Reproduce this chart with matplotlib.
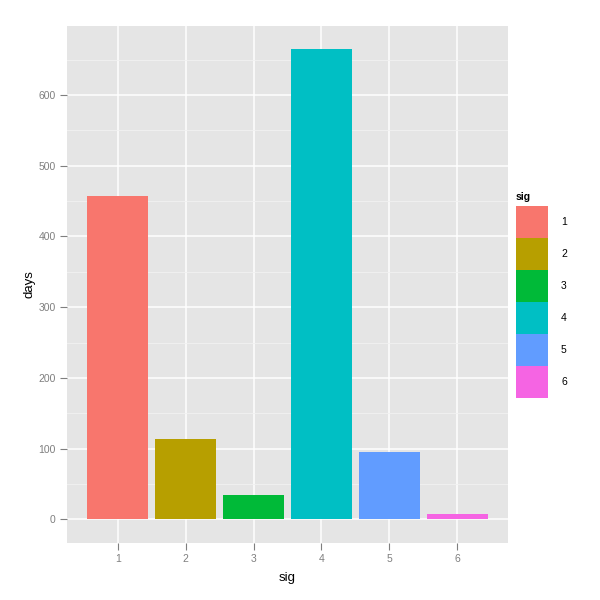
import matplotlib
matplotlib.use("Agg")
import matplotlib.pyplot as plt
from matplotlib.patches import Rectangle

categories = ["1", "2", "3", "4", "5", "6"]
days = [457, 113, 34, 665, 95, 7]
colors = ["#F8766D", "#B79F00", "#00BA38", "#00BFC4", "#619CFF", "#F564E3"]
y_ticks = [0, 100, 200, 300, 400, 500, 600]

plt.rcParams['font.family'] = ['Liberation Sans', 'DejaVu Sans']

fig = plt.figure(figsize=(6, 6), dpi=100)
ax = fig.add_axes([66.7/600, 1-542.7/600, 441.6/600, 517/600])
ax.set_facecolor("#E5E5E5")
xs = list(range(1, len(categories)+1))
ax.bar(xs, days, width=0.9, color=colors, zorder=3)
ax.set_xlim(0.25, 6.75)
ax.set_ylim(-33.25, 698.25)
ax.set_xticks(xs)
ax.set_xticklabels(categories)
ax.set_yticks(y_ticks)
ax.set_yticks([50, 150, 250, 350, 450, 550, 650], minor=True)
ax.grid(True, which="major", color="white", linewidth=1.1, zorder=1)
ax.grid(True, which="minor", axis="y", color="#F2F2F2", linewidth=0.6, zorder=1)
for s in ax.spines.values():
    s.set_visible(False)
ax.tick_params(which="major", length=5, width=0.8, color="#7F7F7F", labelcolor="#7F7F7F", labelsize=7.5, pad=3)
ax.tick_params(which="minor", length=0)
ax.set_xlabel("sig", fontsize=9.5, labelpad=6)
ax.set_ylabel("days", fontsize=9.5, labelpad=2)

# legend
lx0, lx1 = 516, 548
ly_top, key_h = 206, 32
lax = fig.add_axes([0, 0, 1, 1], facecolor="none")
lax.set_xlim(0, 600)
lax.set_ylim(600, 0)
lax.axis("off")
lax.text(lx0, 202, "sig", fontsize=7.5, fontweight="bold", va="bottom", ha="left")
for i, (c, lab) in enumerate(zip(colors, categories)):
    y0 = ly_top + i*key_h
    lax.add_patch(Rectangle((lx0, y0), lx1-lx0, key_h, color=c, lw=0))
    lax.text(561, y0 + key_h/2, lab, fontsize=7.5, va="center", ha="left")

fig.savefig("out.png", dpi=100)
